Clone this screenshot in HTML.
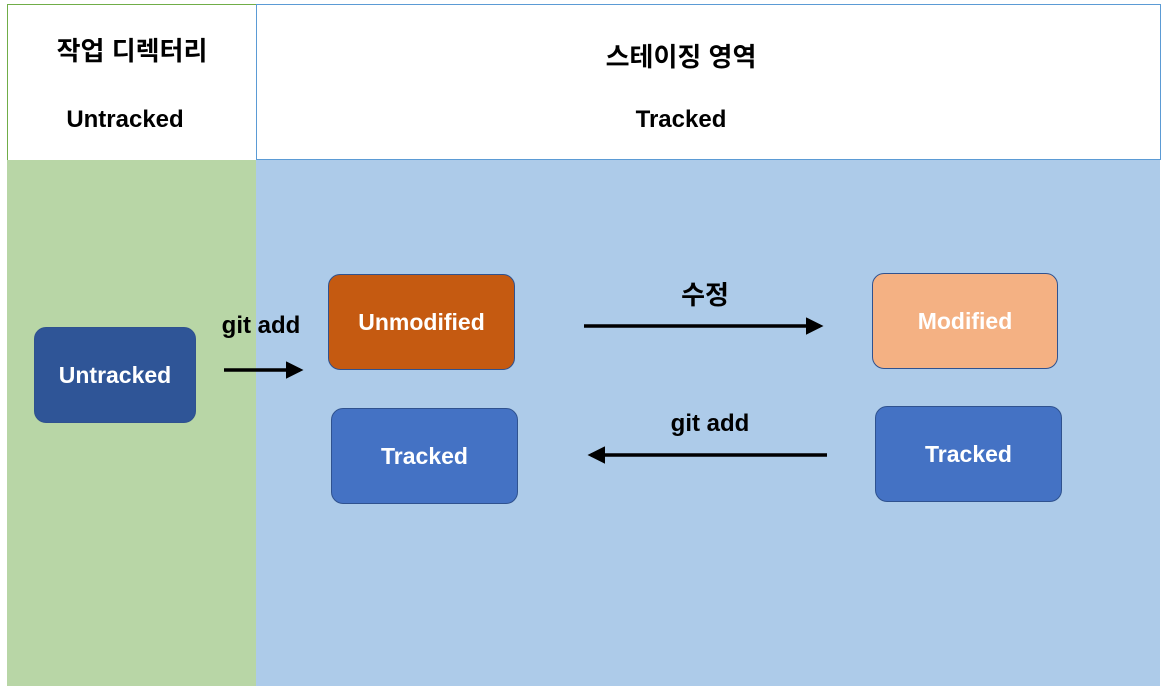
<!DOCTYPE html>
<html><head><meta charset="utf-8"><style>
body{margin:0;width:1167px;height:692px;background:#fff;position:relative;overflow:hidden;font-family:"Liberation Sans","Noto Sans CJK KR",sans-serif;font-weight:bold}
div{position:absolute;box-sizing:border-box}
.t{text-align:center;font-size:24px;color:#000;white-space:nowrap}
.k{font-size:26px}
.n{border-radius:12px;color:#fff;font-size:23px;display:flex;align-items:center;justify-content:center;border:1px solid #2f528f}
</style></head><body>
<div style="left:7px;top:4px;width:250px;height:157px;border:1px solid #70ad47;background:#fff"></div>
<div style="left:256px;top:4px;width:905px;height:156px;border:1px solid #5b9bd5;background:#fff"></div>
<div style="left:7px;top:160px;width:249px;height:526px;background:#b8d6a6"></div>
<div style="left:256px;top:160px;width:904px;height:526px;background:#adcbe9"></div>
<div class="t k" style="left:7px;top:31px;width:250px">작업 디렉터리</div>
<div class="t" style="left:0px;top:106px;width:250px">Untracked</div>
<div class="t k" style="left:256px;top:37px;width:850px">스테이징 영역</div>
<div class="t" style="left:256px;top:106px;width:850px">Tracked</div>
<div class="n" style="left:34px;top:327px;width:162px;height:96px;background:#2f5597">Untracked</div>
<div class="n" style="left:328px;top:274px;width:187px;height:96px;background:#c55a11;border-color:#2f528f">Unmodified</div>
<div class="n" style="left:872px;top:273px;width:186px;height:96px;background:#f4b183">Modified</div>
<div class="n" style="left:331px;top:408px;width:187px;height:96px;background:#4472c4">Tracked</div>
<div class="n" style="left:875px;top:406px;width:187px;height:96px;background:#4472c4">Tracked</div>
<div class="t" style="left:200px;top:312px;width:122px">git add</div>
<div class="t k" style="left:655px;top:275px;width:100px">수정</div>
<div class="t" style="left:650px;top:410px;width:120px">git add</div>
<svg style="position:absolute;left:0;top:0" width="1167" height="692">
<defs><marker id="a" markerWidth="5" markerHeight="5" refX="4" refY="2.5" orient="auto"><path d="M0,0L5,2.5L0,5z" fill="#000"/></marker></defs>
<line x1="224" y1="370" x2="300" y2="370" stroke="#000" stroke-width="3.5" marker-end="url(#a)"/>
<line x1="584" y1="326" x2="820" y2="326" stroke="#000" stroke-width="3.5" marker-end="url(#a)"/>
<line x1="827" y1="455" x2="591" y2="455" stroke="#000" stroke-width="3.5" marker-end="url(#a)"/>
</svg>
</body></html>
